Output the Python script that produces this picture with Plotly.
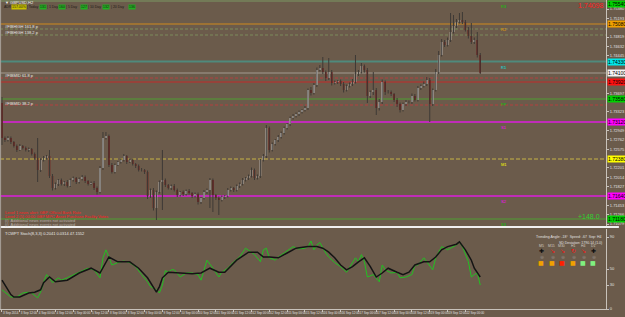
import plotly.graph_objects as go

BG = "#6b5b4b"

# ---------------- data ----------------
first_open = 1.7350
closes = [
    1.7280, 1.7276, 1.7280, 1.7272, 1.7264, 1.7256, 1.7264, 1.7260, 1.7256, 1.7258,
    1.7248, 1.7240, 1.7216, 1.7236, 1.7240, 1.7244, 1.7204, 1.7180, 1.7188, 1.7196,
    1.7188, 1.7192, 1.7184, 1.7196, 1.7200, 1.7192, 1.7198, 1.7202, 1.7194, 1.7188,
    1.7190, 1.7180, 1.7172, 1.7220, 1.7280, 1.7284, 1.7226, 1.7212, 1.7226, 1.7232,
    1.7236, 1.7244, 1.7232, 1.7236, 1.7228, 1.7224, 1.7216, 1.7216, 1.7212, 1.7164,
    1.7176, 1.7140, 1.7172, 1.7192, 1.7196, 1.7186, 1.7180, 1.7184, 1.7176, 1.7166,
    1.7172, 1.7168, 1.7174, 1.7170, 1.7164, 1.7168, 1.7152, 1.7160, 1.7172, 1.7176,
    1.7196, 1.7166, 1.7160, 1.7156, 1.7162, 1.7164, 1.7176, 1.7180, 1.7176, 1.7184,
    1.7188, 1.7196, 1.7200, 1.7204, 1.7216, 1.7200, 1.7204, 1.7236, 1.7244, 1.7300,
    1.7256, 1.7268, 1.7276, 1.7282, 1.7290, 1.7300, 1.7308, 1.7320, 1.7324, 1.7328,
    1.7332, 1.7336, 1.7340, 1.7376, 1.7370, 1.7386, 1.7416, 1.7420, 1.7412, 1.7400,
    1.7412, 1.7390, 1.7392, 1.7394, 1.7388, 1.7376, 1.7384, 1.7388, 1.7392, 1.7408,
    1.7412, 1.7424, 1.7416, 1.7364, 1.7372, 1.7376, 1.7340, 1.7352, 1.7392, 1.7372,
    1.7372, 1.7368, 1.7356, 1.7348, 1.7336, 1.7348, 1.7352, 1.7352, 1.7364, 1.7356,
    1.7380, 1.7384, 1.7388, 1.7396, 1.7348, 1.7376, 1.7412, 1.7446, 1.7472, 1.7466,
    1.7476, 1.7492, 1.7504, 1.7512, 1.7516, 1.7512, 1.7496, 1.7484, 1.7472, 1.7476,
    1.7446, 1.7410,
]
upper_wick_pips = [
    12, 3, 4, 3, 2, 3, 4, 2, 3, 3, 2, 3, 40, 3, 4, 2, 12, 4, 3, 2,
    3, 2, 4, 3, 3, 2, 3, 4, 3, 2, 3, 4, 3, 4, 12, 8, 3, 4, 3, 2,
    3, 4, 2, 3, 3, 2, 3, 4, 2, 3, 3, 4, 3, 3, 60, 3, 2, 3, 4, 3,
    2, 3, 3, 4, 2, 3, 3, 2, 4, 3, 4, 3, 2, 3, 3, 2, 4, 3, 2, 3,
    3, 4, 2, 3, 5, 3, 3, 2, 4, 6, 3, 3, 2, 4, 3, 3, 2, 3, 4, 3,
    3, 2, 4, 3, 6, 4, 5, 6, 22, 3, 28, 4, 3, 2, 3, 4, 3, 3, 6, 38,
    4, 6, 3, 4, 3, 36, 4, 6, 5, 3, 4, 3, 2, 4, 3, 3, 4, 3, 5, 4,
    4, 3, 5, 6, 4, 3, 6, 8, 6, 4, 5, 38, 22, 6, 14, 16, 4, 6, 26, 5,
    16, 4,
]
lower_wick_pips = [
    14, 4, 3, 4, 3, 4, 2, 3, 3, 4, 3, 3, 24, 4, 3, 3, 4, 5, 3, 4,
    3, 4, 3, 2, 3, 4, 3, 3, 4, 3, 2, 4, 5, 3, 4, 3, 4, 3, 3, 2,
    3, 3, 4, 2, 3, 4, 3, 3, 4, 6, 4, 5, 24, 3, 56, 4, 3, 4, 3, 4,
    3, 4, 3, 3, 4, 3, 5, 4, 3, 4, 36, 34, 4, 30, 3, 4, 3, 3, 4, 3,
    4, 3, 3, 4, 3, 4, 3, 4, 3, 4, 5, 3, 3, 4, 3, 3, 3, 4, 3, 3,
    4, 3, 3, 4, 5, 3, 4, 3, 4, 6, 4, 5, 3, 4, 4, 5, 3, 3, 4, 3,
    4, 3, 5, 14, 4, 6, 14, 5, 4, 6, 3, 4, 4, 6, 5, 3, 4, 3, 4, 3,
    3, 4, 3, 4, 36, 4, 3, 4, 3, 4, 3, 4, 3, 4, 3, 4, 3, 5, 4, 4,
    5, 2,
]

# oscillator (lower pane)
fast_idx = [0, 3, 5, 7, 9, 10, 12, 13, 14, 15, 16, 17, 19, 20, 22, 24, 26, 29, 31, 33,
            34, 35, 36, 37, 39, 41, 43, 45, 47, 49, 50, 52, 53, 54, 55, 56, 57, 58, 60, 62,
            64, 66, 67, 69, 71, 73, 74, 76, 78, 80, 82, 84, 85, 87, 88, 89, 90, 92, 93, 95,
            98, 99, 100, 102, 103, 104, 105, 106, 107, 109, 110, 112, 114, 116, 119, 120, 121, 122, 123, 125,
            127, 128, 129, 131, 133, 134, 136, 138, 139, 140, 142, 143, 145, 146, 148, 150, 153, 154, 155, 157,
            158, 159, 160, 161]
fast_vals = [24, 15, 15, 20, 21, 20, 14, 21, 33, 43, 39, 33, 39, 36, 39, 43, 46, 51, 49, 39,
             64, 74, 64, 55, 58, 60, 58, 53, 43, 34, 28, 24, 20, 30, 48, 46, 49, 49, 40, 45,
             45, 43, 36, 61, 51, 40, 46, 51, 59, 65, 76, 71, 68, 59, 74, 76, 64, 61, 65, 70,
             78, 76, 75, 76, 78, 85, 74, 80, 83, 70, 65, 58, 53, 46, 64, 59, 68, 59, 40, 43,
             34, 55, 49, 45, 46, 39, 40, 43, 55, 55, 64, 59, 49, 64, 78, 74, 80, 84, 78, 59,
             40, 43, 45, 30]
slow_idx = [0, 3, 4, 6, 9, 11, 13, 14, 16, 18, 22, 26, 30, 33, 36, 39, 43, 46, 49, 51,
            52, 53, 54, 56, 59, 64, 67, 70, 73, 75, 79, 83, 86, 88, 90, 93, 96, 99, 103, 106,
            108, 110, 112, 114, 116, 118, 120, 122, 124, 126, 128, 130, 133, 135, 137, 139, 142, 144, 146, 148,
            150, 153, 154, 156, 158, 159, 161]
slow_vals = [36, 18, 15, 15, 20, 21, 24, 33, 40, 34, 36, 45, 51, 45, 65, 59, 59, 51, 39, 26,
             21, 28, 39, 46, 45, 44, 45, 51, 46, 46, 61, 71, 71, 65, 65, 64, 70, 76, 78, 78,
             76, 71, 64, 55, 49, 53, 59, 64, 53, 40, 45, 51, 46, 43, 46, 55, 59, 59, 65, 74,
             78, 81, 84, 74, 61, 51, 40]

# horizontal levels
level_prices = [1.7554, 1.7508, 1.7433, 1.7410, 1.7392, 1.7358, 1.7312, 1.7238, 1.7164, 1.7118]
level_line_colors = ["#7d9a64", "#d08a1e", "#4f8a7c", "#a49c92", "#c42a2a", "#4fa032",
                     "#c02cb8", "#c8b446", "#c02cb8", "#4fa032"]
level_label_colors = ["#00d000", "#f0a000", "#00e8e8", "#f4f4f4", "#ff1010", "#00d000",
                      "#ff00ff", "#ffff00", "#ff00ff", "#00d000"]
level_tags = ["R3", "R2", "R1", "", "", "PP", "S1", "M1", "S2", "S3"]
dashed_prices = [1.7498, 1.7486, 1.7400, 1.7346]
dashed_colors = ["#7d8c5c", "#7d8c5c", "#b44040", "#b44040"]

time_labels = ["3 Sep 2014", "3 Sep 12:00", "4 Sep 00:00", "4 Sep 12:00", "5 Sep 00:00",
               "5 Sep 12:00", "8 Sep 00:00", "8 Sep 12:00", "9 Sep 00:00", "9 Sep 12:00",
               "10 Sep 00:00", "10 Sep 12:00", "11 Sep 00:00", "11 Sep 12:00", "12 Sep 00:00",
               "12 Sep 12:00", "15 Sep 00:00", "15 Sep 12:00", "16 Sep 00:00", "16 Sep 12:00",
               "17 Sep 00:00", "17 Sep 12:00", "18 Sep 00:00", "18 Sep 12:00", "19 Sep 00:00",
               "19 Sep 12:00", "22 Sep 00:00"]
time_label_step = 6

# ADR panel values
adr_items = [("ADR:", None), ("157.00%", "#c8c000"), ("| Today", None), ("131", "#20b020"),
             ("| 1 Day", None), ("160", "#20b020"), ("| 5 Day", None), ("127", "#20b020"),
             ("| 10 Day", None), ("132", "#20b020"), ("| 20 Day", None), ("136", "#20b020")]

# price-axis tick grid
price_tick0 = 1.7538
price_dtick = 0.00187

# ---------------- derived ----------------
idx = list(range(len(closes)))
opens = [first_open] + closes[:-1]
highs = [max(o, c) + u * 0.0001 for o, c, u in zip(opens, closes, upper_wick_pips)]
lows = [min(o, c) - d * 0.0001 for o, c, d in zip(opens, closes, lower_wick_pips)]

FIG_W, FIG_H = 625, 317
ML, MR, MT, MB = 0, 13, 0, 8
PW, PH = FIG_W - ML - MR, FIG_H - MT - MB
F = "Liberation Sans"

MAIN_BOT = 226
SUB_TOP = 229
p_top = 1.7556
p_per_px = 0.0002
p_bot = p_top - p_per_px * MAIN_BOT

price_ticks = []
t = price_tick0
while t > p_bot:
    if all(abs(t - lp) > 0.0008 for lp in level_prices):
        price_ticks.append(round(t, 5))
    t -= price_dtick
t = price_tick0 + price_dtick
while t < p_top:
    if all(abs(t - lp) > 0.0008 for lp in level_prices):
        price_ticks.append(round(t, 5))
    t += price_dtick


def px_x(x):
    return (x - ML) / PW


def px_y(y):
    return (PH - (y - MT)) / PH


fig = go.Figure()

# wicks
fig.add_trace(go.Ohlc(
    x=idx, open=opens, high=highs, low=lows, close=closes,
    tickwidth=0, hoverinfo="skip",
    increasing=dict(line=dict(color="#3e3a36", width=1)),
    decreasing=dict(line=dict(color="#3e3a36", width=1)),
    xaxis="x", yaxis="y"))
# bodies
fig.add_trace(go.Candlestick(
    x=idx, open=opens, high=[max(o, c) for o, c in zip(opens, closes)],
    low=[min(o, c) for o, c in zip(opens, closes)], close=closes,
    hoverinfo="skip",
    increasing=dict(line=dict(color="#f2f2f2", width=0), fillcolor="#f2f2f2"),
    decreasing=dict(line=dict(color="#7a0c0c", width=0), fillcolor="#7a0c0c"),
    xaxis="x", yaxis="y"))

# oscillator
fig.add_trace(go.Scatter(x=fast_idx, y=fast_vals, mode="lines",
                         line=dict(color="#22c022", width=1), xaxis="x2", yaxis="y2",
                         hoverinfo="skip"))
fig.add_trace(go.Scatter(x=slow_idx, y=slow_vals, mode="lines",
                         line=dict(color="#141414", width=1.5), xaxis="x2", yaxis="y2",
                         hoverinfo="skip"))

shapes = []
for p, c in zip(dashed_prices, dashed_colors):
    shapes.append(dict(type="line", xref="paper", yref="y", x0=0, x1=1, y0=p, y1=p,
                       line=dict(color=c, width=1, dash="3px,2px"), layer="below"))
for p, c in zip(level_prices, level_line_colors):
    w = 2 if c in ("#4f8a7c", "#c02cb8") else 1
    dash = "4px,2px" if c == "#c8b446" else "solid"
    shapes.append(dict(type="line", xref="paper", yref="y", x0=0, x1=1, y0=p, y1=p,
                       line=dict(color=c, width=w, dash=dash), layer="below"))
shapes.append(dict(type="line", xref="paper", yref="paper", x0=0, x1=FIG_W / PW,
                   y0=px_y(227), y1=px_y(227), line=dict(color="#f0f0f0", width=2)))
shapes.append(dict(type="line", xref="paper", yref="paper", x0=0.001, x1=0.001,
                   y0=0, y1=1, line=dict(color="#a8a29a", width=1)))

ann = []
for p, c, tg in zip(level_prices, level_label_colors, level_tags):
    if tg:
        ann.append(dict(xref="paper", yref="y", x=px_x(509), y=p, xanchor="center",
                        yanchor="top", text=tg, showarrow=False, yshift=-1,
                        font=dict(size=4, color=c, family=F)))

ann.append(dict(xref="paper", yref="paper", x=px_x(3), y=px_y(3), xanchor="left",
                yanchor="middle", text="▼ GBPUSD,H2", showarrow=False,
                font=dict(size=4, color="#f0f0f0", family=F)))
adr_x = [3, 11, 26, 39, 46, 59, 66, 81, 88, 103, 111, 129]
for (tx, bg), x in zip(adr_items, adr_x):
    d = dict(xref="paper", yref="paper", x=px_x(x), y=px_y(7), xanchor="left",
             yanchor="middle", text=tx, showarrow=False, borderpad=0,
             font=dict(size=3.5, color="#1e1a16", family=F))
    if bg:
        d["bgcolor"] = bg
    ann.append(d)

for y, tx in [(27, "#FIBHIGH 161.8 p"), (33, "#FIBHIGH 138.2 p"),
              (76, "#FIBMID 61.8 p"), (103, "#FIBMID 38.2 p")]:
    ann.append(dict(xref="paper", yref="paper", x=px_x(3), y=px_y(y), xanchor="left",
                    yanchor="middle", text=tx, showarrow=False,
                    font=dict(size=4, color="#e8e8e8", family=F)))

ann.append(dict(xref="paper", yref="paper", x=px_x(611), y=px_y(6), xanchor="right",
                yanchor="middle", text="1.74098", showarrow=False,
                font=dict(size=7, color="#ff2020", family=F)))
ann.append(dict(xref="paper", yref="paper", x=px_x(608), y=px_y(216), xanchor="right",
                yanchor="middle", text="+148.0", showarrow=False,
                font=dict(size=7, color="#30d030", family=F)))

news = [(212, "Level 1 news alert: GBP Official Bank Rate", "#ff2020"),
        (216, "Level 2 (5) 00:00 GBP MPC Asset Purchase Facility Votes", "#ff2020"),
        (220, "(i)  Additional news events not activated", "#b8b0a8"),
        (224, "(i)  Additional news events not activated", "#b8b0a8")]
for y, tx, c in news:
    ann.append(dict(xref="paper", yref="paper", x=px_x(3), y=px_y(y), xanchor="left",
                    yanchor="middle", text=tx, showarrow=False,
                    font=dict(size=4, color=c, family=F)))

ann.append(dict(xref="paper", yref="paper", x=px_x(3), y=px_y(233), xanchor="left",
                yanchor="middle", text="TCWPT Stoch(8,3,3) 0.2041 0.0314 47.1552",
                showarrow=False, font=dict(size=4, color="#e8e8e8", family=F)))
ann.append(dict(xref="paper", yref="paper", x=px_x(610), y=px_y(237), xanchor="right",
                yanchor="middle", text="Trending Angle: -18°  Speed: -67  Sep: H4",
                showarrow=False, font=dict(size=3.5, color="#e0e0e0", family=F)))
ann.append(dict(xref="paper", yref="paper", x=px_x(610), y=px_y(243), xanchor="right",
                yanchor="middle", text="SD Deviation: 1790.14 (1.0)",
                showarrow=False, font=dict(size=3.5, color="#e0e0e0", family=F)))

grid_cols = [551, 563, 573, 584, 594, 604]
tf_names = ["M5", "M15", "M30", "H1", "H4", "D1"]
dir_syms = ["✚", "↘", "↘", "↻", "↘", "✚"]
dir_cols = ["#101010", "#ff1010", "#ff1010", "#ff1010", "#ff1010", "#101010"]
sq_cols = ["#f0a000", "#f0a000", "#ff2000", "#f0a000", "#80f080", "#80f080"]
for x, n, s, dc, sc in zip(grid_cols, tf_names, dir_syms, dir_cols, sq_cols):
    ann.append(dict(xref="paper", yref="paper", x=px_x(x), y=px_y(250), text=n,
                    showarrow=False, font=dict(size=3.5, color="#cfc8c0", family=F)))
    ann.append(dict(xref="paper", yref="paper", x=px_x(x), y=px_y(256), text=s,
                    showarrow=False, font=dict(size=6, color=dc, family="DejaVu Sans")))
    ann.append(dict(xref="paper", yref="paper", x=px_x(x), y=px_y(262), text="⊕",
                    showarrow=False, font=dict(size=5, color="#8a8078", family="DejaVu Sans")))
    ann.append(dict(xref="paper", yref="paper", x=px_x(x), y=px_y(268), text="■",
                    showarrow=False, font=dict(size=6, color=sc, family="DejaVu Sans")))

# right axis coloured price boxes
for p, c in zip(level_prices, level_label_colors):
    top_edge = p > p_top - 0.0008
    ann.append(dict(xref="paper", yref="y", x=1.002, y=p if not top_edge else p_top,
                    xanchor="left", yanchor="top" if top_edge else "middle",
                    text=f"{p:.5f}", showarrow=False, bgcolor=c, borderpad=0,
                    font=dict(size=5, color="#000000", family=F)))

axis_col = "#c8c2ba"
fig.update_layout(
    width=FIG_W, height=FIG_H,
    margin=dict(l=ML, r=MR, t=MT, b=MB, pad=0),
    paper_bgcolor=BG, plot_bgcolor=BG, showlegend=False,
    xaxis=dict(domain=[0, 1], range=[-0.667, 203.33], anchor="y",
               showgrid=False, zeroline=False, showticklabels=False, ticks="",
               rangeslider=dict(visible=False), showline=False),
    yaxis=dict(domain=[px_y(MAIN_BOT), 1], range=[p_bot, p_top],
               side="right", anchor="x", showgrid=False, zeroline=False,
               tickmode="array", tickvals=price_ticks, tickformat=".5f",
               tickfont=dict(size=4, color="#e0e0e0", family=F),
               ticks="outside", ticklen=2, tickcolor=axis_col,
               showline=True, linecolor=axis_col, linewidth=1),
    xaxis2=dict(domain=[0, 1], range=[-0.667, 203.33], anchor="y2", matches="x",
                showgrid=False, zeroline=False,
                tickmode="array",
                tickvals=list(range(0, len(time_labels) * time_label_step, time_label_step)),
                ticktext=time_labels, ticklabelposition="outside right", tickangle=0,
                tickfont=dict(size=3, color="#e0e0e0", family=F),
                ticks="outside", ticklen=2, tickcolor=axis_col,
                showline=True, linecolor=axis_col, linewidth=1),
    yaxis2=dict(domain=[0, px_y(SUB_TOP)], range=[0, 100], side="right", anchor="x2",
                showgrid=False, zeroline=False, tickmode="array",
                tickvals=[90, 50, 30, 0], ticktext=["90", "50", "30", "0"],
                tickfont=dict(size=4, color="#e0e0e0", family=F),
                ticks="outside", ticklen=2, tickcolor=axis_col,
                showline=True, linecolor=axis_col, linewidth=1),
    shapes=shapes, annotations=ann,
)

fig.write_html("out.html")
